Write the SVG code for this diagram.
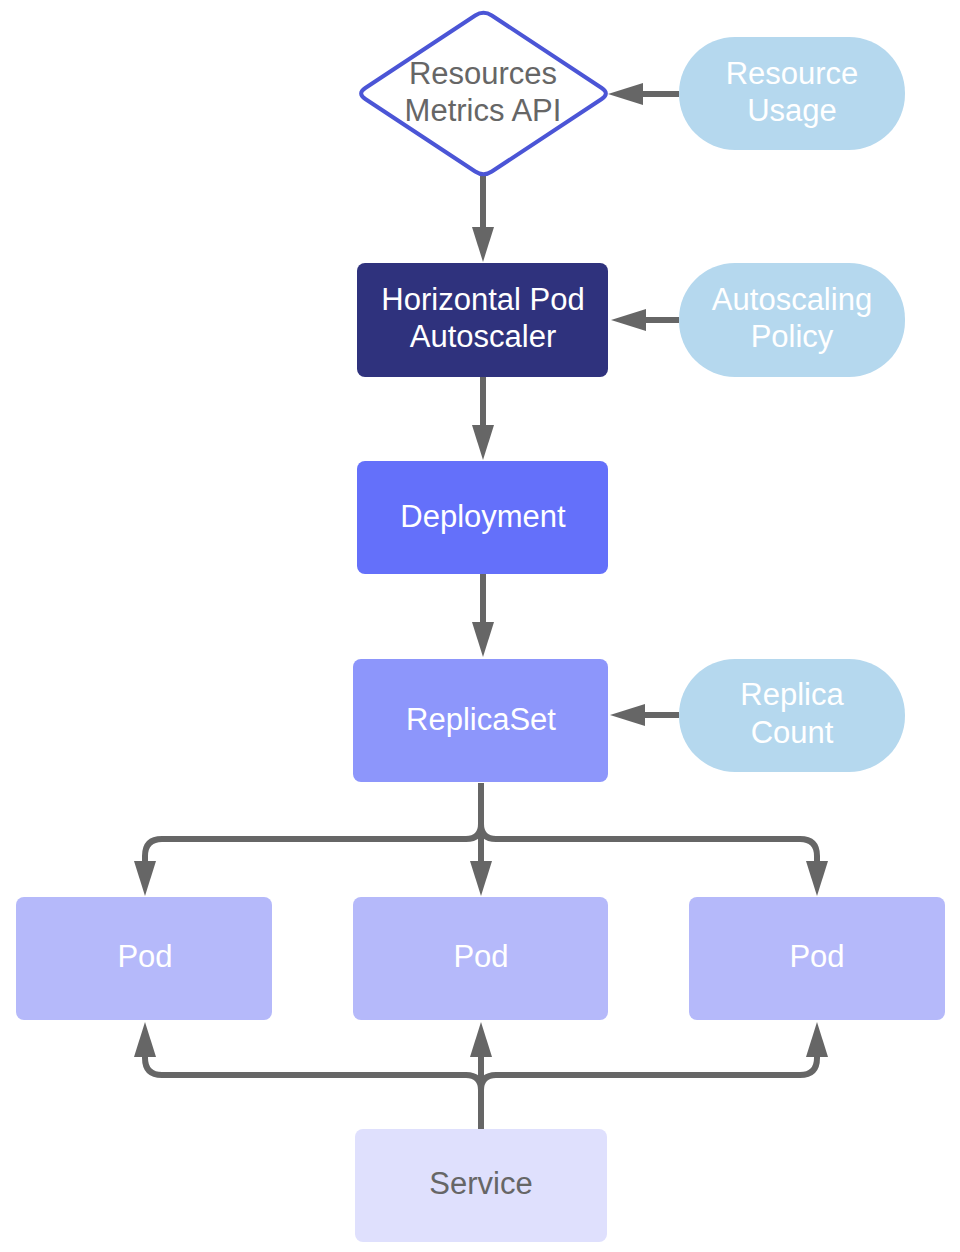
<svg xmlns="http://www.w3.org/2000/svg" width="960" height="1252" viewBox="0 0 960 1252">
<style>
text{font-family:"Liberation Sans",Arial,sans-serif;font-size:31px;text-anchor:middle}
.w{fill:#ffffff}
.g{fill:#666666}
.pill{fill:#b5d8ee}
.c{fill:none;stroke:#666666;stroke-width:6;marker-end:url(#ah)}
</style>
<defs>
<marker id="ah" markerUnits="userSpaceOnUse" viewBox="0 0 35 22" refX="1" refY="11" markerWidth="35" markerHeight="22" orient="auto">
<path d="M0,0 L35,11 L0,22 Z" fill="#666666"/>
</marker>
</defs>
<rect width="960" height="1252" fill="#ffffff"/>
<g id="connectors">
<path class="c" d="M679,94 H642"/>
<path class="c" d="M483,175 V228"/>
<path class="c" d="M679,320 H645"/>
<path class="c" d="M483,377 V426"/>
<path class="c" d="M483,574 V623"/>
<path class="c" d="M679,715 H644"/>
<path class="c" d="M481,783 V824 Q481,839 466,839 H162 Q145,839 145,856 V862"/>
<path class="c" d="M481,783 V862"/>
<path class="c" d="M481,783 V824 Q481,839 496,839 H800 Q817,839 817,856 V862"/>
<path class="c" d="M481,1129 V1090 Q481,1075 466,1075 H162 Q145,1075 145,1058 V1056"/>
<path class="c" d="M481,1129 V1056"/>
<path class="c" d="M481,1129 V1090 Q481,1075 496,1075 H800 Q817,1075 817,1058 V1056"/>
</g>
<g id="metrics-api">
<path d="M491.8,15.5 L601.7,88 Q610,93.5 601.7,99 L491.8,171.5 Q483.5,177 475.2,171.5 L365.3,99 Q357,93.5 365.3,88 L475.2,15.5 Q483.5,10 491.8,15.5 Z" fill="#ffffff" stroke="#4b55d6" stroke-width="4"/>
<text class="g" x="483" y="84">Resources</text>
<text class="g" x="483" y="121">Metrics API</text>
</g>
<g id="resource-usage">
<rect class="pill" x="679" y="37" width="226" height="113" rx="56" ry="56"/>
<text class="w" x="792" y="84">Resource</text>
<text class="w" x="792" y="121">Usage</text>
</g>
<g id="hpa">
<rect x="357" y="263" width="251" height="114" rx="8" fill="#2f327d"/>
<text class="w" x="483" y="310">Horizontal Pod</text>
<text class="w" x="483" y="347">Autoscaler</text>
</g>
<g id="autoscaling-policy">
<rect class="pill" x="679" y="263" width="226" height="114" rx="56" ry="56"/>
<text class="w" x="792" y="310">Autoscaling</text>
<text class="w" x="792" y="347">Policy</text>
</g>
<g id="deployment">
<rect x="357" y="461" width="251" height="113" rx="8" fill="#6470fa"/>
<text class="w" x="483" y="527">Deployment</text>
</g>
<g id="replicaset">
<rect x="353" y="659" width="255" height="123" rx="8" fill="#8d96fb"/>
<text class="w" x="481" y="730">ReplicaSet</text>
</g>
<g id="replica-count">
<rect class="pill" x="679" y="659" width="226" height="113" rx="56" ry="56"/>
<text class="w" x="792" y="705">Replica</text>
<text class="w" x="792" y="743">Count</text>
</g>
<g id="pod1">
<rect x="16" y="897" width="256" height="123" rx="8" fill="#b5b9fa"/>
<text class="w" x="145" y="967">Pod</text>
</g>
<g id="pod2">
<rect x="353" y="897" width="255" height="123" rx="8" fill="#b5b9fa"/>
<text class="w" x="481" y="967">Pod</text>
</g>
<g id="pod3">
<rect x="689" y="897" width="256" height="123" rx="8" fill="#b5b9fa"/>
<text class="w" x="817" y="967">Pod</text>
</g>
<g id="service">
<rect x="355" y="1129" width="252" height="113" rx="8" fill="#dfe0fd"/>
<text class="g" x="481" y="1194">Service</text>
</g>
</svg>
